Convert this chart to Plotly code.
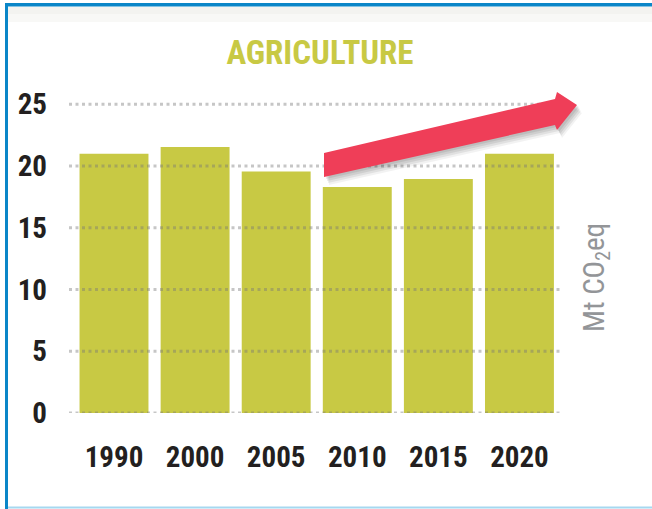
import plotly.graph_objects as go

# ---- data ----
years = ["1990", "2000", "2005", "2010", "2015", "2020"]
emissions = [21.0, 21.55, 19.55, 18.3, 18.95, 21.0]
y_ticks = [0, 5, 10, 15, 20, 25]
title_text = "AGRICULTURE"
unit_text = "Mt CO<sub>2</sub>eq"

# ---- layout geometry (pixels) ----
W, H = 652, 509
L, R, T, B = 69, 560, 100, 413

def px(xp):
    return (xp - L) / (R - L)

def py(yp):
    return (B - yp) / (B - T)

BAR = "#C8C944"
BLUE = "#0A86C8"
FONT = "Roboto Condensed, Liberation Sans Narrow, DejaVu Sans Condensed, Roboto, sans-serif"

fig = go.Figure()
fig.add_trace(go.Bar(x=years, y=emissions, marker=dict(color=BAR, line=dict(width=0)),
                     hoverinfo="x+y"))

shapes = []
# dotted gridlines drawn above the bars
for v in y_ticks:
    shapes.append(dict(type="line", xref="paper", yref="y", x0=0, x1=1, y0=v, y1=v,
                       line=dict(color="rgba(120,120,120,0.42)", width=3, dash="3px,3.5px"),
                       layer="above"))

# decorative trend arrow with a soft shadow
arrow_pts = [(324, 153), (555, 99), (557, 92), (577, 105), (557, 130), (555, 125), (324, 177)]

def path_of(pts, dx=0, dy=0):
    s = ""
    for i, (a, b) in enumerate(pts):
        s += ("M" if i == 0 else "L") + f"{px(a+dx):.5f},{py(b+dy):.5f} "
    return s + "Z"

for (dx, dy, a) in [(5, 8, 0.05), (4, 6, 0.07), (3, 4, 0.08), (2, 2, 0.08)]:
    shapes.append(dict(type="path", xref="paper", yref="paper", path=path_of(arrow_pts, dx, dy),
                       fillcolor=f"rgba(0,0,0,{a})", line=dict(width=0), layer="above"))
shapes.append(dict(type="path", xref="paper", yref="paper", path=path_of(arrow_pts),
                   fillcolor="#EF3E58", line=dict(width=0), layer="above"))

# frame: light top shade and blue border lines
shapes.append(dict(type="rect", xref="paper", yref="paper", x0=px(8), x1=px(W), y0=py(22), y1=py(7),
                   fillcolor="rgba(235,235,228,0.35)", line=dict(width=0), layer="above"))
shapes.append(dict(type="rect", xref="paper", yref="paper", x0=px(8), x1=px(W), y0=py(14), y1=py(7),
                   fillcolor="rgba(235,235,228,0.35)", line=dict(width=0), layer="above"))
shapes.append(dict(type="rect", xref="paper", yref="paper", x0=px(5), x1=px(W), y0=py(6.5), y1=py(3),
                   fillcolor=BLUE, line=dict(width=0), layer="above"))
shapes.append(dict(type="rect", xref="paper", yref="paper", x0=px(5), x1=px(8), y0=py(H), y1=py(3),
                   fillcolor=BLUE, line=dict(width=0), layer="above"))
shapes.append(dict(type="rect", xref="paper", yref="paper", x0=px(8), x1=px(W), y0=py(508.5), y1=py(506.5),
                   fillcolor="#A6D8F0", line=dict(width=0), layer="above"))

fig.update_layout(
    width=W, height=H,
    margin=dict(l=L, r=W - R, t=T, b=H - B, pad=0),
    paper_bgcolor="white", plot_bgcolor="white",
    bargap=0.15,
    showlegend=False,
    shapes=shapes,
    title=dict(text=title_text, x=320 / W, y=1 - 52 / H, xanchor="center", yanchor="middle",
               xref="container", yref="container",
               font=dict(family=FONT, size=33, color=BAR, weight="bold")),
    annotations=[dict(text=unit_text, xref="paper", yref="paper", x=px(596), y=py(278),
                      xanchor="center", yanchor="middle", textangle=-90, showarrow=False,
                      font=dict(family=FONT, size=29, color="#939598"))],
    xaxis=dict(type="category", range=[-0.555, 5.5], showgrid=False, zeroline=False,
               showline=False, ticks="", ticklabelstandoff=24,
               tickfont=dict(family=FONT, size=29, color="#231F20", weight="bold")),
    yaxis=dict(range=[0, 25.35], tickvals=y_ticks, ticktext=[str(v) for v in y_ticks],
               showgrid=False, zeroline=False, showline=False, ticks="", ticklabelstandoff=21,
               tickfont=dict(family=FONT, size=29, color="#231F20", weight="bold")),
)

fig.write_html("out.html", config={"displayModeBar": False},
               post_script="document.documentElement.style.margin='0';document.body.style.margin='0';"
                           "document.body.style.padding='0';document.body.style.overflow='hidden';"
                           "window.scrollTo(0,0);")
